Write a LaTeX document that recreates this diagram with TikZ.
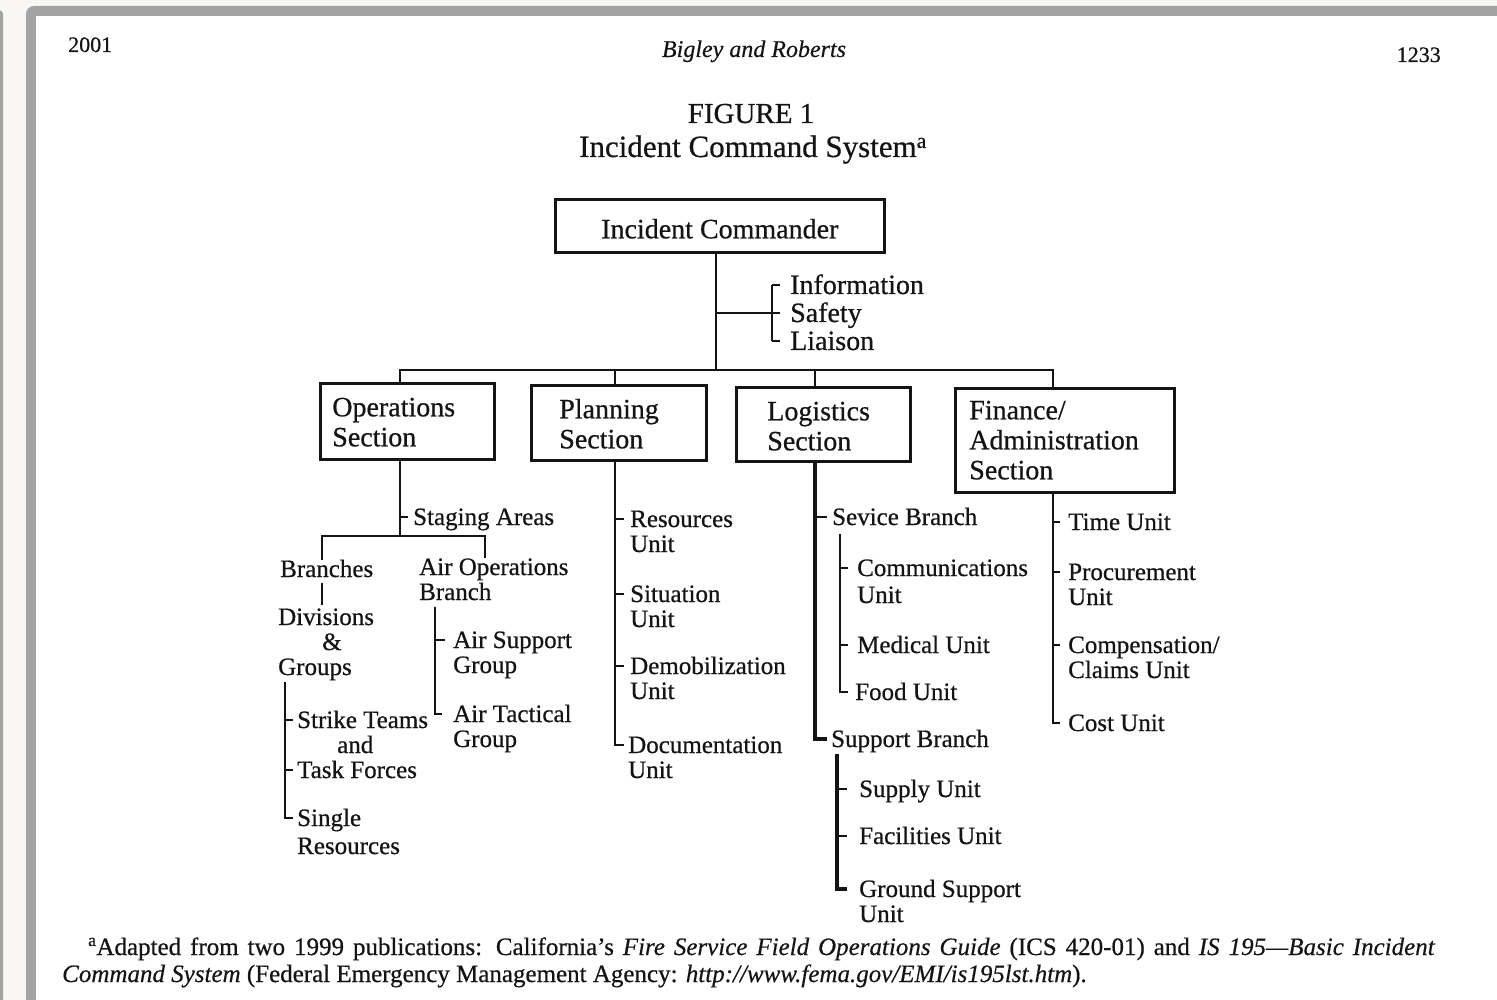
\documentclass[tikz,border=0pt]{standalone}
\usepackage{fontspec}
\setmainfont{Liberation Serif}[UprightFeatures={FakeBold=0.6}, ItalicFeatures={FakeBold=0.4}]
\usetikzlibrary{calc}
\definecolor{pagebg}{HTML}{F8F7F3}
\definecolor{framegray}{HTML}{A3A3A3}
\definecolor{ink}{HTML}{141414}

% section box body: height, width, left padding, first baseline, text
\newcommand\sbx[5]{\parbox[c][#1pt][t]{#2pt}{\leftskip=#3pt\relax\rule{0pt}{#4pt}#5}}
% stacked label lines, baseline on the first line
\newcommand\lns[1]{\begin{tabular}[t]{@{}l@{}}#1\end{tabular}}

\begin{document}
\begin{tikzpicture}[x=1pt,y=-1pt,
  every node/.style={inner sep=0pt, text=ink},
  secbox/.style={draw=ink, line width=2.6pt, anchor=north west,
    font=\fontsize{28}{30}\selectfont},
  big/.style={anchor=base west, font=\fontsize{28}{28}\selectfont,
    text height=19pt, text depth=1pt},
  sub/.style={anchor=base west, font=\fontsize{25}{25}\selectfont,
    text height=17pt, text depth=1pt},
  note/.style={anchor=base west, font=\fontsize{25}{25}\selectfont},
  wire/.style={draw=ink, line width=2.4pt},
  heavy/.style={draw=ink, line width=3.4pt},
]
\useasboundingbox (0,0) rectangle (1497,1000);

% page and frame
\fill[pagebg] (0,0) rectangle (1497,1000);
\fill[framegray, rounded corners=4pt] (-6,10) rectangle (3,1010);
\fill[framegray, rounded corners=8pt] (26,6) rectangle (1520,1020);
\fill[white] (36,16) rectangle (1510,1010);

% running head and caption
\node[anchor=base west, font=\fontsize{22}{22}\selectfont] (yr) at (68,52) {2001};
\node[anchor=base, font=\fontsize{24}{24}\selectfont\itshape] (auth) at (754,57) {Bigley and Roberts};
\node[anchor=base east, font=\fontsize{22}{22}\selectfont] (pg) at (1441,62) {1233};
\node[anchor=base, font=\fontsize{29}{29}\selectfont] (fig) at (751,123) {FIGURE 1};
\node[anchor=base, font=\fontsize{31}{31}\selectfont] (ttl) at (753,157) {Incident Command System\textsuperscript{a}};

% command level
\node[secbox] (ic) at (554,198) {\parbox[c][53pt][t]{329pt}{\centering\rule{0pt}{39pt}Incident Commander}};
\node[big] (inf) at (790,294) {Information};
\node[big] (saf) at (790,322) {Safety};
\node[big] (lia) at (790,350) {Liaison};

% sections
\node[secbox] (ops) at (319,382) {\sbx{76}{174}{12}{33}{Operations\\Section}};
\node[secbox] (plan) at (530,384) {\sbx{75}{175}{28}{33}{Planning\\Section}};
\node[secbox] (log) at (735,386) {\sbx{74}{174}{31}{33}{Logistics\\Section}};
\node[secbox] (fin) at (954,387) {\sbx{104}{219}{14}{31}{Finance/\\Administration\\Section}};

% junction points
\coordinate (busC) at (716,370);
\coordinate (brk) at (772,313);
\coordinate (busL) at (400,370);
\coordinate (busP) at (615,370);
\coordinate (busLg) at (815,370);
\coordinate (busR) at (1053,370);

\draw[wire] (ic.south -| busC) -- (busC);
\draw[wire] (busC |- brk) -- (brk);
\draw[wire] (brk |- inf.west) -- (brk |- lia.west);
\draw[wire] (brk |- inf.west) -- ([xshift=-10pt]inf.west);
\draw[wire] (brk) -- ([xshift=-10pt]saf.west);
\draw[wire] (brk |- lia.west) -- ([xshift=-10pt]lia.west);

\draw[wire] (busL |- ops.north) -- (busL) -- (busR) -- (busR |- fin.north);
\draw[wire] (busP) -- (busP |- plan.north);
\draw[wire] (busLg) -- (busLg |- log.north);

% operations
\node[sub] (stg) at (413,525) {Staging Areas};
\node[sub] (brn) at (280,577) {Branches};
\node[sub] (div) at (278,625) {\lns{Divisions\\\hspace{44pt}\&\\Groups}};
\node[sub] (air) at (419,575) {\lns{Air Operations\\Branch}};
\node[sub] (ast) at (453,648) {\lns{Air Support\\Group}};
\node[sub] (atc) at (453,722) {\lns{Air Tactical\\Group}};
\node[sub] (stk) at (297,728) {\lns{Strike Teams\\\hspace{40pt}and\\Task Forces}};
\node[sub] (sgl) at (297,826) {\lns{Single\\[3pt]Resources}};

\coordinate (opsJ) at (400,536);
\coordinate (brL) at (322,536);
\coordinate (brR) at (485,536);
\coordinate (dvT) at (285,682);
\coordinate (arT) at (435,607);
\coordinate (tfk) at ($(stk.west)+(0,50)$);

\draw[wire] (busL |- ops.south) -- (opsJ);
\draw[wire] (opsJ |- stg.west) -- ([xshift=-5pt]stg.west);
\draw[wire] (brL |- brn.north) -- (brL) -- (brR) -- (brR |- air.north);
\draw[wire] ([yshift=-5pt]brL |- brn.south) -- ([yshift=3pt]brL |- div.north);
\draw[wire] (dvT) -- (dvT |- sgl.west) -- ([xshift=-4pt]sgl.west);
\draw[wire] (dvT |- stk.west) -- ([xshift=-4pt]stk.west);
\draw[wire] (dvT |- tfk) -- ([xshift=-4pt]tfk);
\draw[wire] (arT) -- (arT |- atc.west) -- ([xshift=-11pt]atc.west);
\draw[wire] (arT |- ast.west) -- ([xshift=-8pt]ast.west);

% planning
\node[sub] (res) at (630,527) {\lns{Resources\\Unit}};
\node[sub] (sit) at (630,602) {\lns{Situation\\Unit}};
\node[sub] (dem) at (630,674) {\lns{Demobilization\\Unit}};
\node[sub] (doc) at (628,753) {\lns{Documentation\\Unit}};

\draw[wire] (busP |- plan.south) -- (busP |- doc.west) -- ([xshift=-4pt]doc.west);
\draw[wire] (busP |- res.west) -- ([xshift=-6pt]res.west);
\draw[wire] (busP |- sit.west) -- ([xshift=-6pt]sit.west);
\draw[wire] (busP |- dem.west) -- ([xshift=-6pt]dem.west);

% logistics
\node[sub] (svc) at (832,525) {Sevice Branch};
\node[sub] (com) at (857,576) {\lns{Communications\\[2pt]Unit}};
\node[sub] (med) at (857,653) {Medical Unit};
\node[sub] (food) at (855,700) {Food Unit};
\node[sub] (sup) at (831,747) {Support Branch};
\node[sub] (spl) at (859,797) {Supply Unit};
\node[sub] (fac) at (859,844) {Facilities Unit};
\node[sub] (gnd) at (859,897) {\lns{Ground Support\\Unit}};

\coordinate (svT) at (840,534);
\coordinate (spT) at (837,754);

\draw[heavy] (busLg |- log.south) -- (busLg |- sup.west) -- ([xshift=-4pt]sup.west);
\draw[wire] (busLg |- svc.west) -- ([xshift=-5pt]svc.west);
\draw[wire] (svT) -- (svT |- food.west) -- ([xshift=-7pt]food.west);
\draw[wire] (svT |- com.west) -- ([xshift=-9pt]com.west);
\draw[wire] (svT |- med.west) -- ([xshift=-9pt]med.west);
\draw[heavy] (spT) -- (spT |- gnd.west) -- ([xshift=-12pt]gnd.west);
\draw[wire] (spT |- spl.west) -- ([xshift=-12pt]spl.west);
\draw[wire] (spT |- fac.west) -- ([xshift=-12pt]fac.west);

% finance / administration
\node[sub] (tim) at (1068,530) {Time Unit};
\node[sub] (prc) at (1068,580) {\lns{Procurement\\Unit}};
\node[sub] (cmp) at (1068,653) {\lns{Compensation/\\Claims Unit}};
\node[sub] (cst) at (1068,731) {Cost Unit};

\draw[wire] (busR |- fin.south) -- (busR |- cst.west) -- ([xshift=-8pt]cst.west);
\draw[wire] (busR |- tim.west) -- ([xshift=-8pt]tim.west);
\draw[wire] (busR |- prc.west) -- ([xshift=-8pt]prc.west);
\draw[wire] (busR |- cmp.west) -- ([xshift=-8pt]cmp.west);

% source note
\node[note] (fn1) at (88,955)
  {\makebox[1347pt][s]{\textsuperscript{a}Adapted from two 1999 publications: California's \textit{Fire Service Field Operations Guide} (ICS 420-01) and \textit{IS 195---Basic Incident}}};
\node[note] (fn2) at (62,982)
  {\textit{Command System} (Federal Emergency Management Agency: \textit{http://www.fema.gov/EMI/is195lst.htm}).};
\end{tikzpicture}
\end{document}
